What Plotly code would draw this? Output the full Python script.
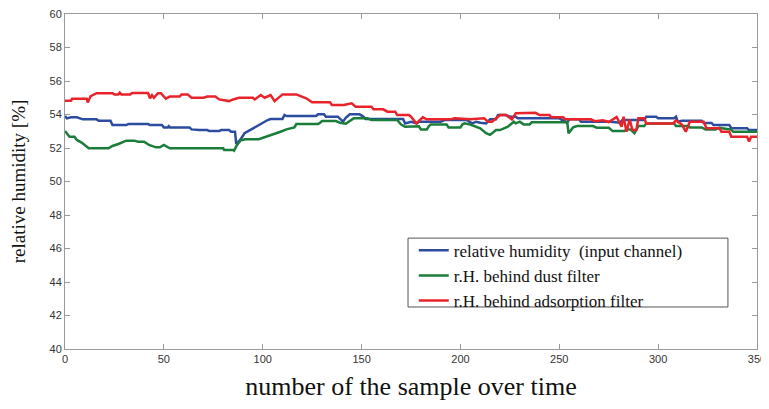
import plotly.graph_objects as go

# ---- data ----
red_x = [0, 3, 3.6, 11, 11.5, 13, 16, 24, 25, 27, 27.7, 28.5, 33, 34, 42, 43, 44, 45, 47, 48.5, 51, 53, 58, 59, 62, 64, 70, 72, 76, 78, 83, 85, 88, 95, 96, 99, 101, 104, 106, 110, 117, 122, 125, 134, 135, 141, 145, 147, 155, 156, 161, 163, 167, 168, 174, 175, 177.7, 181, 183, 195, 197, 205, 212, 214, 216, 220, 223, 226, 228, 237, 238, 240, 245, 246, 252, 253, 266, 268, 272, 275, 279, 281.5, 282.5, 284, 285.6, 287, 289, 290, 293, 294, 307.6, 309, 312, 314, 316, 323, 324.5, 331, 332, 336, 337, 345, 346, 347, 350]
red_y = [54.82, 54.82, 54.94, 54.94, 54.72, 55.1, 55.27, 55.27, 55.2, 55.2, 55.3, 55.2, 55.2, 55.28, 55.28, 54.97, 55.15, 55.0, 55.27, 55.27, 54.95, 55.07, 55.07, 55.2, 55.2, 55.0, 55.0, 55.07, 55.07, 54.9, 54.8, 54.9, 55.0, 55.0, 54.9, 55.16, 55.0, 55.16, 54.8, 55.2, 55.2, 54.97, 54.73, 54.73, 54.57, 54.57, 54.67, 54.47, 54.47, 54.31, 54.31, 54.17, 54.17, 53.97, 53.97, 53.87, 53.47, 53.83, 53.71, 53.71, 53.77, 53.71, 53.77, 53.57, 53.57, 53.97, 53.97, 53.71, 54.07, 54.07, 54.1, 53.97, 53.97, 53.83, 53.83, 53.71, 53.71, 53.6, 53.65, 53.55, 53.85, 53.27, 53.87, 52.97, 53.7, 53.07, 53.07, 53.77, 53.77, 53.47, 53.47, 53.65, 53.4, 52.97, 53.57, 53.57, 53.18, 53.18, 52.97, 52.97, 52.67, 52.67, 52.38, 52.67, 52.67]

blue_x = [0, 1, 3, 6, 9, 16, 17, 23, 24, 31, 32, 42, 43, 49, 50, 52, 52.5, 53, 63, 64, 68, 72, 73, 78, 79, 83, 84, 86, 86.6, 88.6, 90.8, 95, 99, 102.5, 104, 110, 111, 112, 127, 128, 131, 132, 138, 139, 140.6, 142, 144, 149, 151, 152, 171, 172, 175, 178, 179, 190, 192, 203, 206, 208, 210, 213, 215, 218, 219, 223, 225, 228, 229, 250, 254, 255, 260, 261, 276, 280.6, 282, 293, 294, 299, 300, 308, 309, 310, 312, 322, 323, 327, 328, 336, 337, 345, 346, 350]
blue_y = [53.91, 53.77, 53.83, 53.83, 53.71, 53.71, 53.63, 53.63, 53.37, 53.37, 53.43, 53.43, 53.37, 53.37, 53.23, 53.23, 53.3, 53.23, 53.23, 53.11, 53.07, 53.07, 53.01, 53.01, 53.07, 53.07, 52.97, 52.97, 52.24, 52.48, 52.88, 53.18, 53.47, 53.67, 53.73, 53.73, 53.97, 53.91, 53.91, 54.01, 54.01, 53.87, 53.87, 53.77, 53.57, 53.8, 54.01, 54.01, 53.87, 53.73, 53.73, 53.47, 53.57, 53.47, 53.57, 53.57, 53.67, 53.67, 53.47, 53.57, 53.51, 53.47, 53.71, 53.71, 53.97, 53.97, 53.87, 53.87, 53.77, 53.77, 53.51, 53.71, 53.71, 53.57, 53.57, 53.51, 53.67, 53.67, 53.87, 53.87, 53.77, 53.77, 53.87, 53.57, 53.63, 53.63, 53.5, 53.5, 53.37, 53.37, 53.18, 53.18, 53.07, 53.07]

green_x = [0, 1, 2.3, 4.8, 6, 8.4, 11, 12, 22, 24, 27, 31, 35, 37, 40, 42.5, 46, 48, 50, 52, 53, 80, 80.5, 85, 85.5, 87, 89, 90, 91, 98, 102, 105.6, 109, 112, 116, 117, 128, 129, 130, 137, 139, 142, 144, 146, 153, 155, 168, 170, 172, 179, 180, 183, 184, 185, 193, 194, 200, 201, 202, 205, 210, 213, 215, 218, 220, 224, 227, 228, 230, 232, 235, 236, 254, 254.7, 257, 259, 267, 269, 275, 277, 283, 284, 286, 288, 290, 293, 294, 308, 309, 315, 316, 322, 324, 329, 331, 337, 338, 350]
green_y = [53.01, 52.88, 52.67, 52.67, 52.48, 52.32, 52.04, 51.98, 51.98, 52.12, 52.24, 52.44, 52.44, 52.38, 52.38, 52.18, 52.04, 52.04, 52.18, 52.04, 51.98, 51.98, 51.88, 51.88, 51.84, 52.18, 52.48, 52.48, 52.52, 52.52, 52.67, 52.84, 52.97, 53.11, 53.23, 53.43, 53.43, 53.51, 53.61, 53.61, 53.51, 53.45, 53.6, 53.77, 53.77, 53.67, 53.67, 53.4, 53.27, 53.3, 53.11, 53.11, 53.3, 53.41, 53.41, 53.23, 53.23, 53.4, 53.47, 53.4, 53.18, 52.88, 52.78, 53.07, 53.07, 53.27, 53.57, 53.47, 53.57, 53.41, 53.41, 53.53, 53.53, 52.88, 53.23, 53.31, 53.31, 53.21, 53.21, 53.01, 53.01, 53.11, 53.11, 52.88, 53.31, 53.31, 53.47, 53.47, 53.31, 53.31, 53.23, 53.23, 53.11, 53.11, 53.2, 53.1, 52.97, 52.97]

names = ["relative humidity  (input channel)", "r.H. behind dust filter", "r.H. behind adsorption filter"]
x_ticks = [0, 50, 100, 150, 200, 250, 300, 350]
y_ticks = [40, 42, 44, 46, 48, 50, 52, 54, 56, 58, 60]

fig = go.Figure()
fig.add_trace(go.Scatter(x=blue_x, y=blue_y, mode="lines", name=names[0],
                         line=dict(color="#2B4C9F", width=2.5)))
fig.add_trace(go.Scatter(x=green_x, y=green_y, mode="lines", name=names[1],
                         line=dict(color="#1B7D3A", width=2.5)))
fig.add_trace(go.Scatter(x=red_x, y=red_y, mode="lines", name=names[2],
                         line=dict(color="#E8232A", width=2.5)))

axis_common = dict(showgrid=False, zeroline=False, showline=True, linecolor="#9a9a9a",
                   linewidth=1, mirror="ticks", ticks="inside", ticklen=5, automargin=False,
                   ticklabeloverflow="allow",
                   tickcolor="#9a9a9a", tickfont=dict(family="Liberation Sans", size=11, color="#333"))

# legend frame (wider than the entries, as in the reference)
fig.add_shape(type="rect", xref="paper", yref="paper", x0=0.4957, x1=0.958, y0=0.1254, y1=0.331,
              line=dict(color="#555", width=1), fillcolor="white", layer="below")

fig.update_layout(
    width=761, height=393,
    margin=dict(l=57, r=12, t=6, b=52),
    paper_bgcolor="white", plot_bgcolor="white",
    showlegend=True,
    legend=dict(x=0.504, y=0.347, xanchor="left", yanchor="top",
                bgcolor="rgba(0,0,0,0)", borderwidth=0,
                font=dict(family="Liberation Serif", size=17, color="#111"),
                tracegroupgap=0, itemwidth=30),
    xaxis=dict(range=[0, 350], tickvals=x_ticks, ticktext=[str(v) for v in x_ticks],
               title=dict(text="number of the sample over time", standoff=20,
                          font=dict(family="Liberation Serif", size=26, color="#111")),
               **axis_common),
    yaxis=dict(range=[40, 60], tickvals=y_ticks, ticktext=[str(v) for v in y_ticks],
               title=dict(text="relative humidity [%]", standoff=19,
                          font=dict(family="Liberation Serif", size=19, color="#111")),
               **axis_common),
)

fig.write_html("out.html")
